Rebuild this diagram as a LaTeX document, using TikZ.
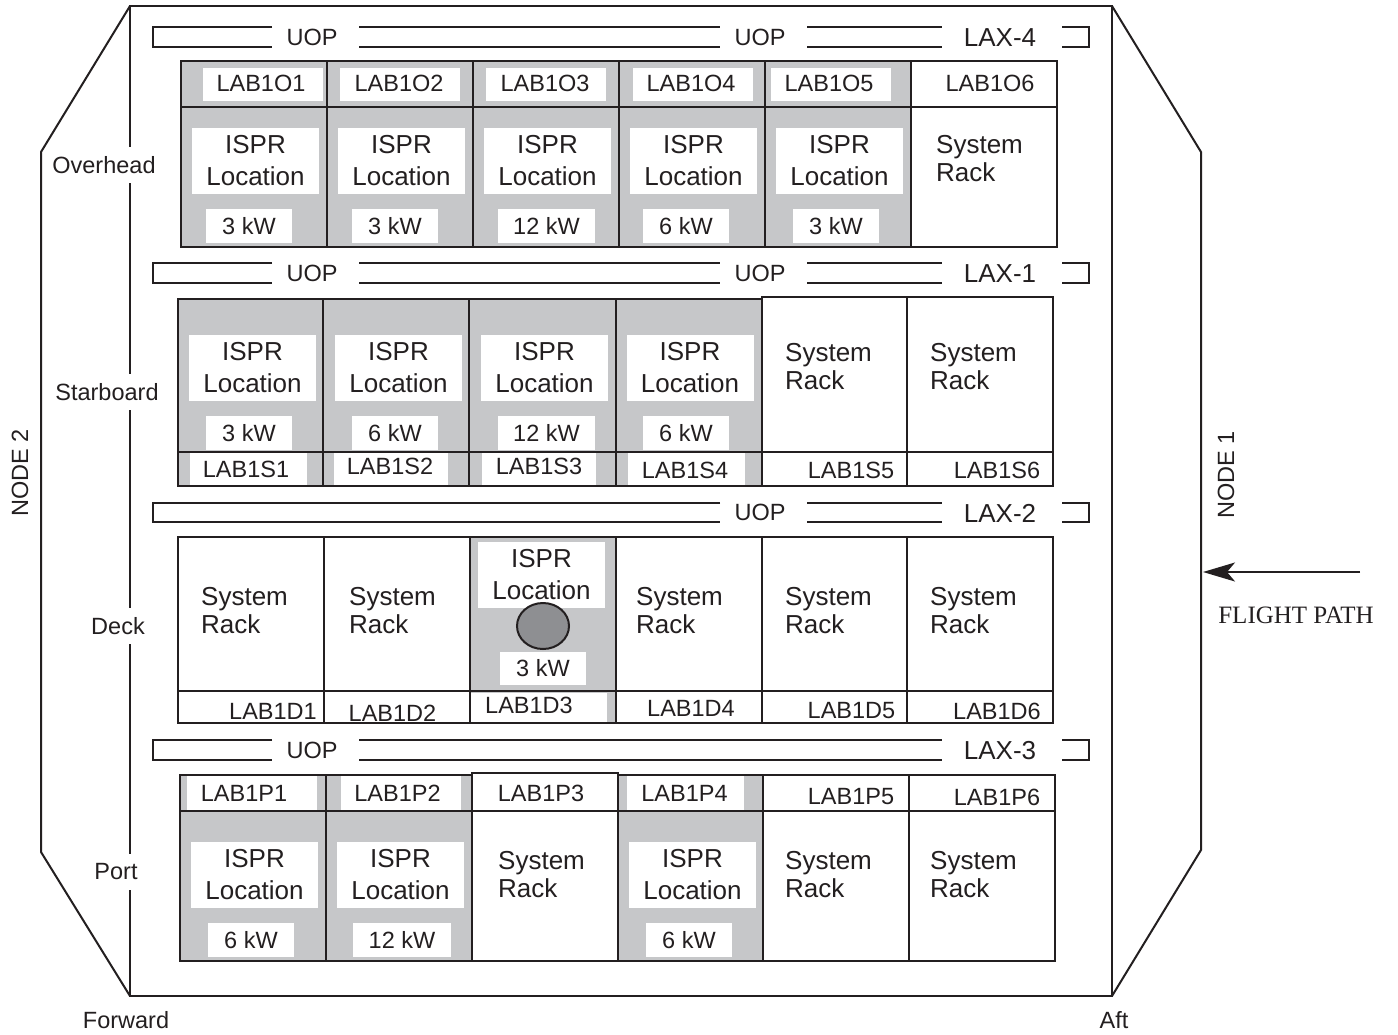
\documentclass[tikz,border=0pt]{standalone}
\usepackage{fontspec}
\setmainfont{Liberation Sans}
\newfontfamily\tnrfont{Liberation Serif}
\usetikzlibrary{arrows.meta}
\definecolor{rackgray}{HTML}{C6C7C9}
\definecolor{inkc}{HTML}{231F20}
\definecolor{ellgray}{HTML}{8E8F92}
\newcommand\lblf{\fontsize{23.5}{28}\selectfont}
\newcommand\bigf{\fontsize{26}{32}\selectfont}
\newcommand\sysf{\fontsize{26}{28}\selectfont}
\begin{document}
\begin{tikzpicture}[x=1pt,y=-1pt,
  wall/.style={draw=inkc,line width=2pt,line join=miter},
  barline/.style={draw=inkc,line width=2pt},
  rackline/.style={draw=inkc,line width=2.6pt},
  txt/.style={font=\lblf,text=inkc,inner sep=0pt},
  bigtxt/.style={font=\bigf,text=inkc,inner sep=0pt},
  ispr/.style={fill=white,inner sep=0pt,minimum width=127pt,minimum height=66pt,align=center,font=\bigf,text=inkc},
  kwbox/.style={fill=white,inner sep=0pt,minimum height=34pt,font=\lblf,text=inkc},
  sysrack/.style={anchor=north west,inner sep=0pt,align=left,font=\sysf,text=inkc},
  side/.style={fill=white,inner xsep=1pt,inner ysep=0pt,minimum height=36pt,font=\lblf,text=inkc}]
\useasboundingbox (0,0) rectangle (1398,1034);
\fill[white] (0,0) rectangle (1398,1034);

% ---- hull ----
\draw[wall] (130,6) rectangle (1112,996);
\draw[wall] (130,6) -- (41,152) -- (41,852) -- (130,996);
\draw[wall] (1112,6) -- (1201,152) -- (1201,850) -- (1112,996);

% ---- UOP / LAX bars ----
\foreach \t/\b in {27/47,263/283}{
  \draw[barline] (272,\t) -- (153,\t) -- (153,\b) -- (272,\b);
  \draw[barline] (359,\t) -- (720,\t) (359,\b) -- (720,\b);
  \draw[barline] (807,\t) -- (942,\t) (807,\b) -- (942,\b);
  \draw[barline] (1062,\t) -- (1089,\t) -- (1089,\b) -- (1062,\b);
}
\draw[barline] (720,503) -- (153,503) -- (153,522) -- (720,522);
\draw[barline] (807,503) -- (942,503) (807,522) -- (942,522);
\draw[barline] (1062,503) -- (1089,503) -- (1089,522) -- (1062,522);
\draw[barline] (272,740) -- (153,740) -- (153,760) -- (272,760);
\draw[barline] (359,740) -- (942,740) (359,760) -- (942,760);
\draw[barline] (1062,740) -- (1089,740) -- (1089,760) -- (1062,760);

\node[txt] (uop1a) at (312,37) {UOP};
\node[txt] (uop1b) at (760,37) {UOP};
\node[bigtxt] (lax4) at (1000,37.5) {LAX-4};
\node[txt] (uop2a) at (312,273) {UOP};
\node[txt] (uop2b) at (760,273) {UOP};
\node[bigtxt] (lax1) at (1000,273.5) {LAX-1};
\node[txt] (uop3b) at (760,512.5) {UOP};
\node[bigtxt] (lax2) at (1000,513) {LAX-2};
\node[txt] (uop4a) at (312,750) {UOP};
\node[bigtxt] (lax3) at (1000,750.5) {LAX-3};

% ---- Overhead row ----
\fill[rackgray] (181,61) rectangle (911,247);
\foreach \a/\c in {203/323,340/460,486/606,633/753,771/891}
  \fill[white] (\a,68) rectangle (\c,101);
\draw[rackline] (181,61) rectangle (1057,247);
\draw[rackline] (181,107) -- (1057,107);
\foreach \x in {327,473,619,765,911} \draw[rackline] (\x,61) -- (\x,247);
\node[txt] (o1lab) at (261,83) {LAB1O1};
\node[txt] (o2lab) at (399,83) {LAB1O2};
\node[txt] (o3lab) at (545,83) {LAB1O3};
\node[txt] (o4lab) at (691,83) {LAB1O4};
\node[txt] (o5lab) at (829,83) {LAB1O5};
\node[txt] (o6lab) at (990,83) {LAB1O6};
\node[ispr] (o1ispr) at (255.5,161) {ISPR\\Location};
\node[ispr] (o2ispr) at (401.5,161) {ISPR\\Location};
\node[ispr] (o3ispr) at (547.5,161) {ISPR\\Location};
\node[ispr] (o4ispr) at (693.5,161) {ISPR\\Location};
\node[ispr] (o5ispr) at (839.5,161) {ISPR\\Location};
\node[kwbox,minimum width=86pt] (o1kw) at (249,226) {3 kW};
\node[kwbox,minimum width=86pt] (o2kw) at (395,226) {3 kW};
\node[kwbox,minimum width=97pt] (o3kw) at (546.5,226) {12 kW};
\node[kwbox,minimum width=86pt] (o4kw) at (686,226) {6 kW};
\node[kwbox,minimum width=86pt] (o5kw) at (836,226) {3 kW};
\node[sysrack] (o6sys) at (936,135) {System\\Rack};

% ---- Starboard row ----
\fill[rackgray] (178,299) rectangle (762,486);
\foreach \a/\c in {190/307,334/448,482/596,628/745}
  \fill[white] (\a,453) rectangle (\c,485);
\draw[rackline] (178,486) -- (178,299) -- (762,299) -- (762,297) -- (1053,297) -- (1053,486) -- cycle;
\draw[rackline] (178,452) -- (1053,452);
\foreach \x in {323,469,616,762,907} \draw[rackline] (\x,298) -- (\x,486);
\node[ispr] (s1ispr) at (252.5,367.5) {ISPR\\Location};
\node[ispr] (s2ispr) at (398.5,367.5) {ISPR\\Location};
\node[ispr] (s3ispr) at (544.5,367.5) {ISPR\\Location};
\node[ispr] (s4ispr) at (690,367.5) {ISPR\\Location};
\node[kwbox,minimum width=86pt] (s1kw) at (249,433) {3 kW};
\node[kwbox,minimum width=86pt] (s2kw) at (395,433) {6 kW};
\node[kwbox,minimum width=97pt] (s3kw) at (546.5,433) {12 kW};
\node[kwbox,minimum width=86pt] (s4kw) at (686,433) {6 kW};
\node[sysrack] (s5sys) at (785,343) {System\\Rack};
\node[sysrack] (s6sys) at (930,343) {System\\Rack};
\node[txt] (s1lab) at (246,469) {LAB1S1};
\node[txt] (s2lab) at (390,466.5) {LAB1S2};
\node[txt] (s3lab) at (539,466.5) {LAB1S3};
\node[txt] (s4lab) at (685,470) {LAB1S4};
\node[txt] (s5lab) at (851,470) {LAB1S5};
\node[txt] (s6lab) at (997,470) {LAB1S6};

% ---- Deck row ----
\fill[rackgray] (470,537) rectangle (616,723);
\fill[white] (471,693) rectangle (607,722);
\draw[rackline] (178,537) rectangle (1053,723);
\draw[rackline] (178,691) -- (1053,691);
\foreach \x in {324,470,616,762,907} \draw[rackline] (\x,537) -- (\x,723);
\node[sysrack] (d1sys) at (201,587) {System\\Rack};
\node[sysrack] (d2sys) at (349,587) {System\\Rack};
\node[ispr] (d3ispr) at (541.5,575) {ISPR\\Location};
\draw[draw=inkc,line width=2pt,fill=ellgray] (543,626) ellipse [x radius=26pt,y radius=23pt];
\node[kwbox,minimum width=86pt,minimum height=33pt] (d3kw) at (543,668.5) {3 kW};
\node[sysrack] (d4sys) at (636,587) {System\\Rack};
\node[sysrack] (d5sys) at (785,587) {System\\Rack};
\node[sysrack] (d6sys) at (930,587) {System\\Rack};
\node[txt] (d1lab) at (273,711) {LAB1D1};
\node[txt] (d2lab) at (392.5,713) {LAB1D2};
\node[txt] (d3lab) at (529,705) {LAB1D3};
\node[txt] (d4lab) at (691,708) {LAB1D4};
\node[txt] (d5lab) at (851.5,711) {LAB1D5};
\node[txt] (d6lab) at (997,711) {LAB1D6};

% ---- Port row ----
\fill[rackgray] (180,775) rectangle (472,961);
\fill[rackgray] (618,775) rectangle (763,961);
\foreach \a/\c in {187/317,341/461,627/744}
  \fill[white] (\a,776) rectangle (\c,810);
\draw[rackline] (180,961) -- (180,775) -- (472,775) -- (472,773) -- (618,773) -- (618,775) -- (1055,775) -- (1055,961) -- cycle;
\draw[rackline] (180,811) -- (1055,811);
\foreach \x in {326,472,618,763,909} \draw[rackline] (\x,774) -- (\x,961);
\node[txt] (p1lab) at (244,793.5) {LAB1P1};
\node[txt] (p2lab) at (397.5,793.5) {LAB1P2};
\node[txt] (p3lab) at (541,793.5) {LAB1P3};
\node[txt] (p4lab) at (684.5,793) {LAB1P4};
\node[txt] (p5lab) at (851,797) {LAB1P5};
\node[txt] (p6lab) at (997,797) {LAB1P6};
\node[ispr] (p1ispr) at (254.5,875) {ISPR\\Location};
\node[ispr] (p2ispr) at (400.5,875) {ISPR\\Location};
\node[ispr] (p4ispr) at (692.5,875) {ISPR\\Location};
\node[kwbox,minimum width=86pt] (p1kw) at (251,940) {6 kW};
\node[kwbox,minimum width=98pt] (p2kw) at (402,940) {12 kW};
\node[kwbox,minimum width=86pt] (p4kw) at (689,940) {6 kW};
\node[sysrack] (p3sys) at (498,851) {System\\Rack};
\node[sysrack] (p5sys) at (785,851) {System\\Rack};
\node[sysrack] (p6sys) at (930,851) {System\\Rack};

% ---- side labels ----
\node[side] (overhead) at (104,165) {Overhead};
\node[side] (starboard) at (107,392) {Starboard};
\node[side] (deck) at (118,626) {Deck};
\node[side] (port) at (116,872) {Port};
\node[txt,rotate=90] (node2) at (20,473) {NODE 2};
\node[txt,rotate=90] (node1) at (1226,475) {NODE 1};
\node[txt] (forward) at (126,1020) {Forward};
\node[txt] (aft) at (1114,1020) {Aft};

% ---- flight path ----
\coordinate (fpstart) at (1360,572);
\coordinate (fpend) at (1203,572);
\draw[draw=inkc,line width=1.6pt,-{Stealth[length=32pt,width=19pt,inset=8pt]}] (fpstart) -- (fpend);
\node[font=\tnrfont\fontsize{25}{30}\selectfont,text=inkc,inner sep=0pt] (flightpath) at (1296,615) {FLIGHT PATH};
\end{tikzpicture}
\end{document}
